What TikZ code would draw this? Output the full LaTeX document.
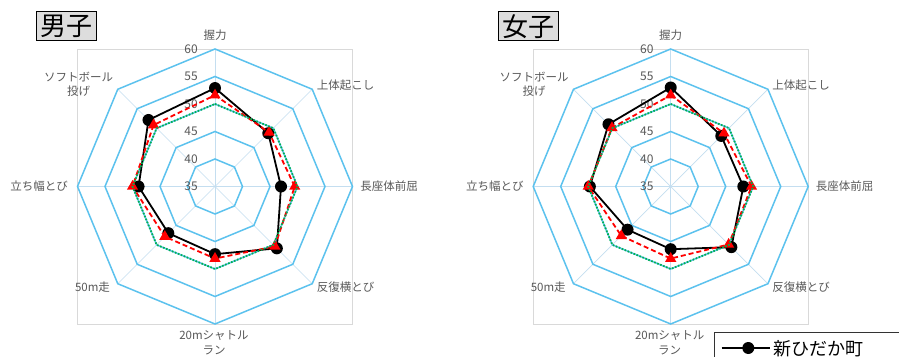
\documentclass[tikz,border=0pt]{standalone}
\usepackage{fontspec}
\setmainfont{Noto Sans CJK JP}
\usetikzlibrary{shapes.geometric}

\definecolor{ringblue}{RGB}{92,194,238}
\definecolor{spokeblue}{RGB}{196,222,240}
\definecolor{framegray}{RGB}{217,217,217}
\definecolor{labelgray}{RGB}{89,89,89}
\definecolor{natgreen}{RGB}{0,176,80}
\definecolor{titlefill}{RGB}{221,221,221}

\tikzset{
    plotframe/.style={draw=framegray, line width=0.7pt},
    spoke/.style={draw=spokeblue, line width=0.7pt},
    ring/.style={draw=ringblue, line width=1.5pt},
    ticklabel/.style={text=labelgray, font=\fontsize{12}{12}\selectfont, inner sep=0pt, anchor=east},
    axislabel/.style={text=labelgray, font=\fontsize{11.5}{14.5}\selectfont, inner sep=0pt, align=center},
    townline/.style={black, line width=1.8pt},
    townmark/.style={circle, fill=black, minimum size=12pt, inner sep=0pt},
    prefline/.style={red, line width=1.8pt, dash pattern=on 5pt off 3pt},
    prefmark/.style={regular polygon, regular polygon sides=3, fill=red, minimum size=13pt, inner sep=0pt},
    natline/.style={natgreen, line width=1.8pt, dash pattern=on 1.6pt off 1.6pt},
    titlebox/.style={draw=black, fill=titlefill, line width=0.8pt, minimum width=60pt, minimum height=29pt, inner sep=0pt, font=\fontsize{26}{26}\selectfont}
}

% one radar chart: #1 centre x, #2 town values, #3 prefecture values
\newcommand{\radarchart}[3]{
    \begin{scope}[shift={(#1,169.5)}]
        % Frame and spokes
        \draw[plotframe] (-137.5,-137.5) rectangle (137.5,137.5);
        \foreach \i in {0,...,7}
            \draw[spoke] (0,0) -- ({90-45*\i}:137.5);

        % Rings from 40 to 60 (35 is the centre)
        \foreach \v in {40,45,...,60}
            \draw[ring] (90:{(\v-35)*5.5})
                \foreach \i in {1,...,7}{ -- ({90-45*\i}:{(\v-35)*5.5})} -- cycle;
        \foreach \v in {35,40,...,60}
            \node[ticklabel] (tick-\v) at (-17,{(\v-35)*5.5}) {\v};

        % Axis names
        \foreach \lx/\ly/\lab [count=\k] in {
            0/151.5/握力, 130.5/101.5/上体起こし, 174/0/長座体前屈,
            130.5/-100.5/反復横とび, -122.5/-100.5/50m走, -174.5/0/立ち幅とび
        }
        \node[axislabel] (axis-\k) at (\lx,\ly) {\lab};
        \node[axislabel, anchor=north] (axis-shuttle) at (-1,-144) {20mシャトル\\ラン};
        \node[axislabel] (axis-ball) at (-136.5,102) {ソフトボール\\投げ};

        % Town values (black)
        \foreach \v [count=\i] in {#2}
            \coordinate (t\i) at ({90-45*(\i-1)}:{(\v-35)*5.5});
        \draw[townline] (t1) \foreach \i in {2,...,8}{ -- (t\i)} -- cycle;
        \foreach \i in {1,...,8}
            \node[townmark] (tm\i) at (t\i) {};

        % Prefecture values (red)
        \foreach \v [count=\i] in {#3}
            \coordinate (p\i) at ({90-45*(\i-1)}:{(\v-35)*5.5});
        \draw[prefline] (p1) \foreach \i in {2,...,8}{ -- (p\i)} -- cycle;
        \foreach \i in {1,...,8}
            \node[prefmark] (pm\i) at (p\i) {};

        % National average = 50 (green)
        \draw[natline] (90:82.5) \foreach \i in {1,...,7}{ -- ({90-45*\i}:82.5)} -- cycle;
    \end{scope}
}

\begin{document}
\begin{tikzpicture}[x=1pt, y=1pt]
    % Picture size of the reference
    \clip (0,0) rectangle (899,356);
    \fill[white] (0,0) rectangle (899,356);

    % Boys
    \node[titlebox] (title-boys) at (66.7,329.8) {男子};
    \radarchart{215}{52.9,48.7,47.0,50.9,47.3,47.0,48.9,52.1}{51.6,48.9,49.5,50.4,48.1,47.9,50.0,50.8}

    % Girls
    \node[titlebox] (title-girls) at (528,329.8) {女子};
    \radarchart{670.7}{53.0,48.0,48.2,50.6,46.4,46.1,49.7,51.0}{51.6,48.7,49.7,49.9,48.1,47.7,50.0,50.1}

    % Legend (cut off at the border)
    \draw[draw=black!80, line width=0.8pt, fill=white] (714.3,23.7) rectangle (930,-30);
    \coordinate (leg-a) at (721.7,8);
    \coordinate (leg-b) at (770,8);
    \draw[townline] (leg-a) -- (leg-b);
    \node[townmark] (leg-m) at (748.3,8) {};
    \node[anchor=base west, inner sep=0pt, font=\fontsize{18}{18}\selectfont] (leg-t) at (773.3,0.5) {新ひだか町};
\end{tikzpicture}
\end{document}
